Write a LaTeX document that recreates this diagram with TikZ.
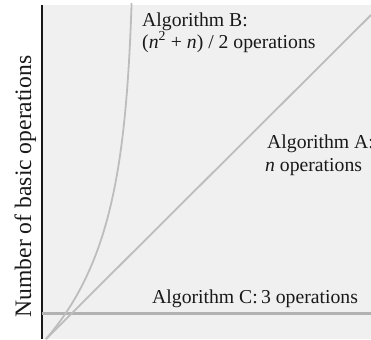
\documentclass[tikz,border=0pt]{standalone}
\usepackage{fontspec}
\setmainfont{Liberation Serif}
\begin{document}
\begin{tikzpicture}[x=1pt,y=-1pt,
  lbl/.style={anchor=base west,inner sep=0pt,text=black!90,font=\fontsize{19.7}{22}\selectfont},
  curve/.style={draw=black!26,line width=1.8pt},
  axis/.style={draw=black!90,line width=2.2pt}]
\useasboundingbox (0,0) rectangle (371,339);
\fill[black!6] (42,5) rectangle (371,339);
% axis
\coordinate (axtop) at (42,5);
\coordinate (axbot) at (42,339);
\draw[axis] (axtop) -- (axbot);
% Algorithm C
\coordinate (cl) at (42,313.5);
\coordinate (cr) at (371,313.5);
\draw[curve,draw=black!30,line width=2.2pt] (cl) -- (cr);
% Algorithm A
\coordinate (al) at (46,339);
\coordinate (ar) at (371,15);
\draw[curve] (al) -- (ar);
% Algorithm B
\draw[curve] plot[domain=0:336,samples=80,smooth] ({46+89*(1-exp(-\x/103))},{339-\x});
% labels
\node[lbl] (labelB1) at (142,27) {Algorithm B:};
\node[lbl] (labelB2) at (142,48.5) {(\textit{n}\textsuperscript{2} + \textit{n}) / 2 operations};
\node[lbl] (labelA1) at (267,148) {Algorithm A:};
\node[lbl] (labelA2) at (265,171) {\textit{n} operations};
\node[lbl] (labelC) at (152,303) {Algorithm C:\,3 operations};
\node[anchor=base,inner sep=0pt,rotate=90,text=black!90,font=\fontsize{23.6}{26}\selectfont] (ylabel) at (31,186.5) {Number of basic operations};
\end{tikzpicture}
\end{document}
